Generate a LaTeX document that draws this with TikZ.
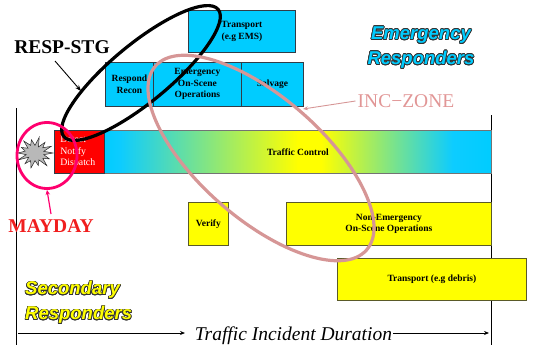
\documentclass[tikz,border=0pt]{standalone}
\usepackage{fontspec}
\setmainfont{Liberation Serif}
\newfontfamily\arialfont{Liberation Sans}
\usepackage{contour}
\contourlength{0.7pt}
\usetikzlibrary{shapes.geometric,arrows.meta,calc}
\definecolor{cyanC}{RGB}{0,204,255}
\definecolor{ylwC}{RGB}{255,255,0}
\definecolor{redC}{RGB}{255,0,0}
\definecolor{magC}{RGB}{255,0,110}
\definecolor{maytxt}{RGB}{240,30,30}
\definecolor{pinkC}{RGB}{214,150,150}
\definecolor{pinktxt}{RGB}{225,150,150}
\definecolor{oliveC}{RGB}{90,90,40}
\definecolor{edgeC}{RGB}{50,60,70}
\pgfdeclarehorizontalshading{tcshade}{100bp}{
  rgb(0bp)=(0,0.8,1); rgb(25bp)=(0,0.8,1); rgb(27bp)=(0.05,0.8,1); rgb(50bp)=(1,1,0);
  rgb(53bp)=(1,1,0); rgb(70bp)=(0.05,0.8,1); rgb(75bp)=(0,0.8,1); rgb(100bp)=(0,0.8,1)}
\begin{document}
\begin{tikzpicture}[x=1pt,y=-1pt,
  box/.style={draw=edgeC, line width=0.8pt, align=center, anchor=north west,
    font=\fontsize{9.5}{11.5}\selectfont\bfseries, inner sep=0pt},
  cyanbox/.style={box, fill=cyanC},
  ylwbox/.style={box, fill=ylwC, draw=oliveC},
  bigserif/.style={font=\fontsize{19.5}{20}\selectfont\bfseries, inner sep=1pt},
  grpname/.style={font=\arialfont\fontsize{18.5}{25}\selectfont\bfseries\itshape, inner sep=0pt},
  axisline/.style={line width=0.8pt, -{Stealth[length=5pt,width=4pt]}},
  vline/.style={line width=0.9pt},
]
\useasboundingbox (0,0) rectangle (533,345);

% vertical lines
\coordinate (lt) at (16,108); \coordinate (lb) at (16,345);
\coordinate (rt) at (491,115); \coordinate (rb) at (491,345);
\draw[vline] (lt) -- (lb);
\draw[vline] (rt) -- (rb);

% emergency boxes
\node[cyanbox, minimum width=107, minimum height=42] (tems) at (188,10) {Transport\\(e.g EMS)};
\node[cyanbox, minimum width=48, minimum height=44] (recon) at (105,62) {Respond\\Recon};
\node[cyanbox, minimum width=88, minimum height=44] (eos) at (153,62) {Emergency\\On-Scene\\Operations};
\node[cyanbox, minimum width=62, minimum height=44] (salv) at (241,62) {Salvage};

% traffic control bar
\node[box, shading=tcshade, draw=black!55, minimum width=387, minimum height=43] (tc) at (104,130) {Traffic Control};
\node[box, fill=redC, draw=edgeC, minimum height=43, text width=38, inner xsep=6, align=left,
  font=\fontsize{9.8}{11.5}\selectfont, text=white] (dnd) at (54,130) {Detect\\Notify\\Dispatch};

% secondary boxes
\node[ylwbox, minimum width=40, minimum height=43] (ver) at (188,202) {Verify};
\node[ylwbox, minimum width=205, minimum height=43] (nem) at (286,202) {Non-Emergency\\On-Scene Operations};
\node[ylwbox, minimum width=189, minimum height=42] (tdeb) at (337,258) {Transport (e.g debris)};

% starburst
\filldraw[fill=black!28, draw=black!85, line width=0.5pt]
  ({35+18},{153}) \foreach \k/\r in {1/9,2/16,3/10,4/19,5/9,6/15,7/9,8/18,9/10,10/16,11/8,12/19,13/9,14/17,15/10,16/15,17/9,18/18,19/10,20/16,21/9,22/19,23/8,24/16,25/10,26/18,27/9}
  { -- ({35+\r*cos(\k*12.857)},{153+0.85*\r*sin(\k*12.857)}) } -- cycle;

% ellipses
\node[ellipse, draw=black, line width=3.2pt, minimum width=200, minimum height=58, rotate=39.5, inner sep=0pt] (stg) at (141,73) {};
\node[ellipse, draw=pinkC, line width=3.2pt, minimum width=280, minimum height=122, rotate=-41, inner sep=0pt] (zone) at (261,158) {};
\node[ellipse, draw=magC, line width=2.8pt, minimum width=60, minimum height=66, inner sep=0pt, outer sep=1.4pt] (mc) at (47,155.5) {};

% labels
\node[bigserif] (resp) at (62,47) {RESP-STG};
\coordinate (respfrom) at (55,61); \coordinate (resptip) at (81,91);
\draw[line width=0.9pt, -{Stealth[length=6pt,width=4.5pt]}] (respfrom) -- (resptip);

\node[bigserif, text=maytxt] (mayday) at (51,226) {MAYDAY};
\coordinate (mayfrom) at (51,214);
\draw[magC, line width=1.2pt, -{Stealth[length=5pt,width=4.5pt]}] (mayfrom) -- (mc.south);

\node[font=\fontsize{19.5}{20}\selectfont, text=pinktxt, inner sep=2pt] (incz) at (406,101) {INC\textminus ZONE};
\coordinate (inctip) at (303,109);
\draw[pinkC, line width=0.9pt, -{Stealth[length=5pt,width=4pt]}] (incz.west) -- (inctip);

\node[grpname, align=center] (emr) at (421,48) {\contour{black!80}{\textcolor{cyanC}{Emergency}}\\\contour{black!80}{\textcolor{cyanC}{Responders}}};
\node[grpname, align=left, anchor=west] (sec) at (25,303) {\contour{black!80}{\textcolor{ylwC}{Secondary}}\\\contour{black!80}{\textcolor{ylwC}{Responders}}};

% time axis
\node[font=\fontsize{19.5}{20}\selectfont\itshape, inner sep=0pt, anchor=base] (tid) at (293.5,340) {Traffic Incident Duration};
\coordinate (ax0) at (18,333); \coordinate (ax1) at (185,333);
\coordinate (ax2) at (393,333); \coordinate (ax3) at (489,333);
\draw[axisline] (ax0) -- (ax1);
\draw[axisline] (ax2) -- (ax3);
\end{tikzpicture}
\end{document}
